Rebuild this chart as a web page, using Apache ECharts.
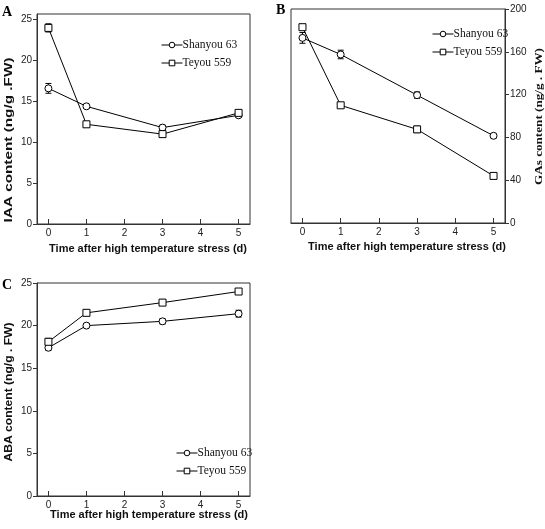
<!DOCTYPE html>
<html>
<head>
<meta charset="utf-8">
<script src="https://cdn.jsdelivr.net/npm/echarts@6/dist/echarts.min.js"></script>
<style>html,body{margin:0;padding:0;background:#fff}#c{width:545px;height:529px}</style>
</head>
<body>
<div id="c"></div>
<script>
var days = [0, 1, 3, 5];
var xTicks = [0, 1, 2, 3, 4, 5];
var seriesNames = ['Shanyou 63', 'Teyou 559'];
var xTitle = 'Time after high temperature stress (d)';
var iaaTitle = 'IAA content (ng/g .FW)';
var gaTitle = 'GAs content (ng/g . FW)';
var abaTitle = 'ABA content (ng/g . FW)';

var iaaShanyou = [16.6, 14.4, 11.8, 13.3];
var iaaShanyouErr = [0.6, 0.2, 0.3, 0.2];
var iaaTeyou = [24.0, 12.2, 11.0, 13.6];
var iaaTeyouErr = [0.5, 0.3, 0.3, 0.2];

var gaShanyou = [173, 157.5, 119.5, 81.5];
var gaShanyouErr = [5, 4, 3, 2];
var gaTeyou = [183, 110, 87.5, 44];
var gaTeyouErr = [2, 2, 3, 1.5];

var abaShanyou = [17.4, 20.0, 20.5, 21.4];
var abaShanyouErr = [0.3, 0.2, 0.3, 0.4];
var abaTeyou = [18.1, 21.5, 22.7, 24.0];
var abaTeyouErr = [0.4, 0.3, 0.3, 0.2];

var iaaTicks = [0, 5, 10, 15, 20, 25];
var abaTicks = [0, 5, 10, 15, 20, 25];

var sans = 'Liberation Sans, Arial, sans-serif';
var serif = 'Liberation Serif, Times New Roman, serif';

function pts(vals) { return days.map(function (d, i) { return [d, vals[i]]; }); }
function errs(vals, e) { return days.map(function (d, i) { return [d, vals[i] - e[i], vals[i] + e[i]]; }); }

function measure(font, text) {
  var ctx = document.createElement('canvas').getContext('2d');
  ctx.font = font; return ctx.measureText(text).width;
}

function errSeries(idx, vals, e) {
  return {
    type: 'custom', xAxisIndex: idx, yAxisIndex: idx, z: 1, silent: true,
    data: errs(vals, e),
    renderItem: function (params, api) {
      var x = api.value(0);
      var lo = api.coord([x, api.value(1)]);
      var hi = api.coord([x, api.value(2)]);
      var st = { stroke: '#000', lineWidth: 1 };
      return { type: 'group', children: [
        { type: 'line', shape: { x1: lo[0], y1: lo[1], x2: hi[0], y2: hi[1] }, style: st },
        { type: 'line', shape: { x1: lo[0] - 3, y1: lo[1], x2: lo[0] + 3, y2: lo[1] }, style: st },
        { type: 'line', shape: { x1: hi[0] - 3, y1: hi[1], x2: hi[0] + 3, y2: hi[1] }, style: st }
      ]};
    }
  };
}
function lineSeries(idx, name, vals, sym) {
  return {
    type: 'line', name: name, xAxisIndex: idx, yAxisIndex: idx, z: 3,
    data: pts(vals), symbol: sym, symbolSize: 7,
    lineStyle: { color: '#000', width: 1 },
    itemStyle: { color: '#fff', borderColor: '#000', borderWidth: 1 },
    animation: false
  };
}
function xAxis(idx) {
  return {
    type: 'value', gridIndex: idx, min: -0.3, max: 5.3,
    axisLine: { show: true, onZero: false, lineStyle: { color: '#333' } },
    axisTick: { show: true, inside: true, length: 5, customValues: xTicks, lineStyle: { color: '#333' } },
    axisLabel: { customValues: xTicks, fontFamily: sans, fontSize: 10, color: '#222', margin: 4 },
    splitLine: { show: false }
  };
}
function yAxis(idx, min, max, ticks, pos) {
  var a = {
    type: 'value', gridIndex: idx, min: min, max: max, position: pos,
    axisLine: { show: true, onZero: false, lineStyle: { color: '#333' } },
    axisTick: { show: true, inside: false, length: 4, lineStyle: { color: '#333' } },
    axisLabel: { fontFamily: sans, fontSize: 10, color: '#222', margin: 5 },
    splitLine: { show: false }
  };
  if (ticks) { a.axisTick.customValues = ticks; a.axisLabel.customValues = ticks; }
  else { a.interval = 40; }
  return a;
}
function hTitle(text, cx, cy) {
  return { type: 'text', x: cx, y: cy, z: 10,
    style: { text: text, font: 'bold 11px ' + sans, fill: '#111', align: 'center', verticalAlign: 'middle', textAlign: 'center', textVerticalAlign: 'middle' } };
}
function vTitle(text, cx, cy, len, font) {
  var w = measure(font, text);
  return { type: 'text', x: cx, y: cy, rotation: Math.PI / 2, scaleX: len / w, scaleY: 1, z: 10,
    style: { text: text, font: font, fill: '#111', align: 'center', verticalAlign: 'middle', textAlign: 'center', textVerticalAlign: 'middle' } };
}
function letter(t, x, y) {
  return { type: 'text', x: x, y: y, z: 10,
    style: { text: t, font: 'bold 14px ' + serif, fill: '#000', align: 'left', verticalAlign: 'middle', textAlign: 'left', textVerticalAlign: 'middle' } };
}

var legendBase = {
  orient: 'vertical', itemWidth: 21, itemHeight: 7, itemGap: 6,
  data: seriesNames, textStyle: { fontFamily: serif, fontSize: 11.5, color: '#111', padding: [0, 0, 0, -5] },
  lineStyle: { color: '#000', width: 1 },
  itemStyle: { color: '#fff', borderColor: '#000', borderWidth: 1 },
  selectedMode: false
};
var option = {
  animation: false,
  grid: [
    { left: 37, right: 295, top: 14, bottom: 305, show: true, borderColor: '#333', borderWidth: 1 },
    { left: 291, right: 40, top: 9, bottom: 306, show: true, borderColor: '#333', borderWidth: 1 },
    { left: 37, right: 295, top: 283, bottom: 33, show: true, borderColor: '#333', borderWidth: 1 }
  ],
  xAxis: [xAxis(0), xAxis(1), xAxis(2)],
  yAxis: [
    yAxis(0, 0, 25.7, iaaTicks, 'left'),
    yAxis(1, 0, 200, null, 'right'),
    yAxis(2, 0, 25, abaTicks, 'left')
  ],
  legend: [
    Object.assign({}, legendBase, { left: 156, top: 34 }),
    Object.assign({}, legendBase, { left: 427, top: 23 }),
    Object.assign({}, legendBase, { left: 171, top: 442 })
  ],
  graphic: [
    letter('A', 2, 12.5), letter('B', 276, 10), letter('C', 2, 285),
    hTitle(xTitle, 148, 249), hTitle(xTitle, 407, 247), hTitle(xTitle, 149, 515),
    vTitle(iaaTitle, 8.5, 140, 165, 'bold 11px ' + sans),
    vTitle(gaTitle, 539, 116.5, 137, 'bold 11px ' + serif),
    vTitle(abaTitle, 9, 392, 139, 'bold 11px ' + sans)
  ],
  series: [
    errSeries(0, iaaShanyou, iaaShanyouErr), errSeries(0, iaaTeyou, iaaTeyouErr),
    lineSeries(0, 'Shanyou 63', iaaShanyou, 'circle'), lineSeries(0, 'Teyou 559', iaaTeyou, 'rect'),
    errSeries(1, gaShanyou, gaShanyouErr), errSeries(1, gaTeyou, gaTeyouErr),
    lineSeries(1, 'Shanyou 63', gaShanyou, 'circle'), lineSeries(1, 'Teyou 559', gaTeyou, 'rect'),
    errSeries(2, abaShanyou, abaShanyouErr), errSeries(2, abaTeyou, abaTeyouErr),
    lineSeries(2, 'Shanyou 63', abaShanyou, 'circle'), lineSeries(2, 'Teyou 559', abaTeyou, 'rect')
  ]
};
var chart = echarts.init(document.getElementById('c'), null, { renderer: 'canvas' });
chart.setOption(option);
</script>
</body>
</html>
